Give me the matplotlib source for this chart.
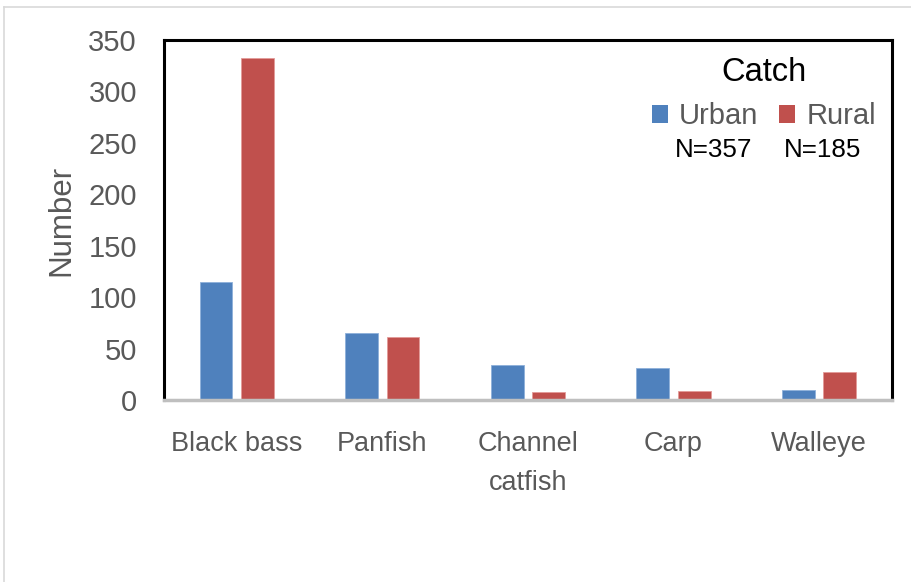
import matplotlib
matplotlib.use("Agg")
import matplotlib.pyplot as plt
from matplotlib.patches import Patch
from matplotlib.lines import Line2D
import numpy as np

categories = ["Black bass", "Panfish", "Channel\ncatfish", "Carp", "Walleye"]
urban = [115, 65, 34, 31, 10]
rural = [332, 61, 8, 9, 27]
series_names = ["Urban", "Rural"]
sample_sizes = ["N=357", "N=185"]
yticks = [0, 50, 100, 150, 200, 250, 300, 350]

BLUE = "#4F81BD"
RED = "#C0504D"
GREY_TEXT = "#595959"

plt.rcParams["font.family"] = ["Liberation Sans", "DejaVu Sans"]

fig = plt.figure(figsize=(9.11, 5.82), dpi=100)
ax = fig.add_axes([0.180, 0.3127, 0.799, 0.6186])

x = np.arange(len(categories))
w = 0.225
off = 0.142
ax.bar(x - off, urban, width=w, color=BLUE, edgecolor="#8DB0DA", linewidth=0.6)
ax.bar(x + off, rural, width=w, color=RED, edgecolor="#E39A98", linewidth=0.6)

ax.set_xlim(-0.5, len(categories) - 0.5)
ax.set_ylim(0, 350)
ax.set_yticks(yticks)
ax.set_xticks(x)
ax.set_xticklabels(categories, fontsize=19.5, color=GREY_TEXT, linespacing=1.65)
ax.tick_params(axis="y", length=0, pad=19.5, labelsize=21, labelcolor=GREY_TEXT)
ax.tick_params(axis="x", length=0, pad=22.5)
ax.set_ylabel("Number", fontsize=22.5, color=GREY_TEXT)
ax.yaxis.set_label_coords(-0.121, 0.5)

for s in ["left", "top", "right"]:
    ax.spines[s].set_color("black")
    ax.spines[s].set_linewidth(2.2)
ax.spines["bottom"].set_color("#BFBFBF")
ax.spines["bottom"].set_linewidth(2.5)
ax.spines["bottom"].set_zorder(5)

handles = [Patch(facecolor=BLUE), Patch(facecolor=RED)]
leg = ax.legend(handles, series_names, ncol=2, loc="upper right",
                bbox_to_anchor=(1.006, 1.010), frameon=False,
                title="Catch", title_fontsize=23.5, fontsize=21,
                handlelength=0.55, handleheight=0.55, handletextpad=0.38,
                columnspacing=0.72, labelcolor=GREY_TEXT, borderaxespad=0.3)
leg.get_title().set_color("black")

ax.text(0.755, 0.695, sample_sizes[0], transform=ax.transAxes, fontsize=18.7,
        color="black", ha="center", va="center")
ax.text(0.905, 0.695, sample_sizes[1], transform=ax.transAxes, fontsize=18.7,
        color="black", ha="center", va="center")

# thin chart-area border along the top and left
fig.add_artist(Line2D([4 / 911, 1.0], [1 - 7 / 582, 1 - 7 / 582],
                      transform=fig.transFigure, color="#D9D9D9", linewidth=1.2))
fig.add_artist(Line2D([4 / 911, 4 / 911], [0.0, 1 - 7 / 582],
                      transform=fig.transFigure, color="#D9D9D9", linewidth=1.2))

fig.savefig("out.png", dpi=100)
